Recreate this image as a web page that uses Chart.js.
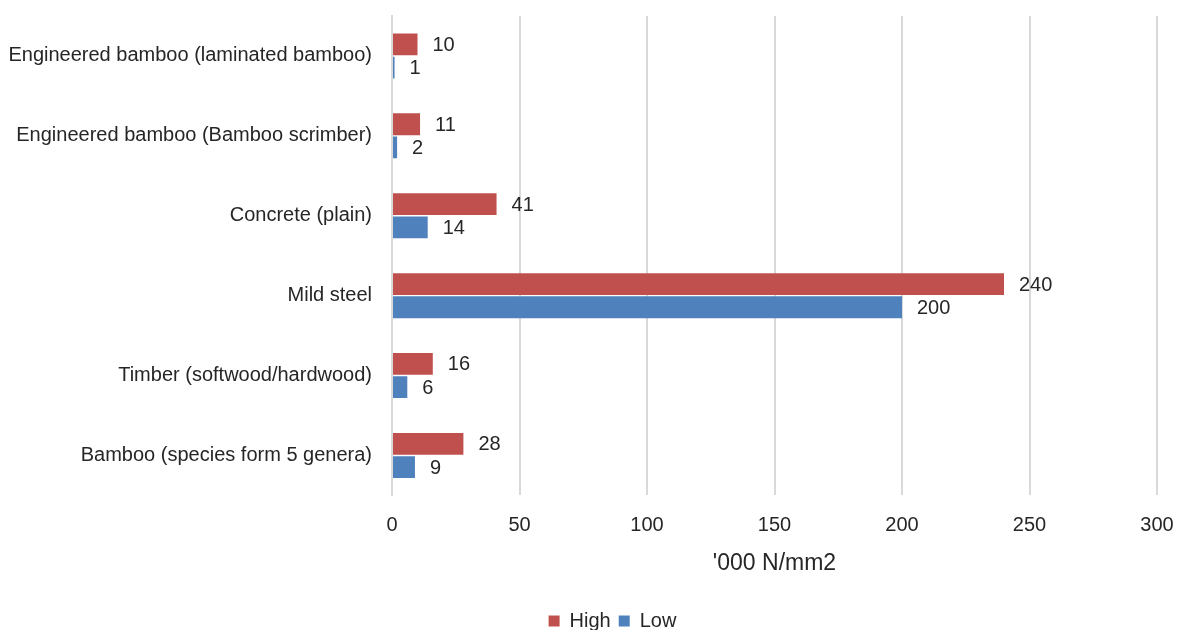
<!DOCTYPE html>
<html>
<head>
<meta charset="utf-8">
<script src="https://cdn.jsdelivr.net/npm/chart.js@4.4.1/dist/chart.umd.min.js"></script>
<style>
  html, body { margin: 0; padding: 0; background: #ffffff; }
  #wrap { width: 1178px; height: 630px; }
</style>
</head>
<body>
<div id="wrap"><canvas id="c" width="1178" height="630"></canvas></div>
<script>
const categories = [
  "Engineered bamboo (laminated bamboo)",
  "Engineered bamboo (Bamboo scrimber)",
  "Concrete (plain)",
  "Mild steel",
  "Timber (softwood/hardwood)",
  "Bamboo (species form 5 genera)"
];
const highValues = [10, 11, 41, 240, 16, 28];
const lowValues = [1, 2, 14, 200, 6, 9];
const xTicks = [0, 50, 100, 150, 200, 250, 300];
const axisTitle = "'000 N/mm2";

const FONT = "'Liberation Sans', Arial, sans-serif";
const RED = "#C0504D";
const BLUE = "#4F81BD";
const TEXT = "#262626";

// writes each bar's value just past its end
const valueLabels = {
  id: "valueLabels",
  afterDatasetsDraw(chart) {
    const ctx = chart.ctx;
    ctx.save();
    ctx.font = "20px " + FONT;
    ctx.fillStyle = TEXT;
    ctx.textAlign = "left";
    ctx.textBaseline = "middle";
    chart.data.datasets.forEach((ds, i) => {
      chart.getDatasetMeta(i).data.forEach((bar, j) => {
        ctx.fillText(String(ds.data[j]), bar.x + 15, bar.y + 1);
      });
    });
    ctx.restore();
  }
};

// centres the legend a little right of the canvas middle
const legendShift = {
  id: "legendShift",
  afterLayout(chart) {
    if (chart.legend) chart.legend.left = 68;
  }
};

new Chart(document.getElementById("c"), {
  type: "bar",
  data: {
    labels: categories,
    datasets: [
      { label: "High", data: highValues, backgroundColor: RED, barPercentage: 0.94, categoryPercentage: 0.58 },
      { label: "Low", data: lowValues, backgroundColor: BLUE, barPercentage: 0.94, categoryPercentage: 0.58 }
    ]
  },
  options: {
    indexAxis: "y",
    responsive: false,
    animation: false,
    layout: { padding: { left: 0, right: 21, top: 16, bottom: -11 } },
    scales: {
      x: {
        min: 0, max: 300,
        afterBuildTicks(axis) { axis.ticks = xTicks.map(v => ({ value: v })); },
        afterFit(axis) { axis.paddingLeft = 0; axis.paddingRight = 0; },
        grid: { color: "#d9d9d9", lineWidth: 2, drawTicks: false },
        border: { display: false },
        ticks: { color: TEXT, font: { family: FONT, size: 20 }, padding: 18 },
        title: { display: true, text: axisTitle, color: TEXT, font: { family: FONT, size: 23 }, padding: { top: -6, bottom: 26 } }
      },
      y: {
        grid: { display: false, drawTicks: false },
        border: { display: true, color: "#d9d9d9", width: 2 },
        ticks: { color: TEXT, font: { family: FONT, size: 20 }, padding: 20 },
        afterFit(axis) { axis.width = 392; axis.paddingTop = 0; axis.paddingBottom = 0; }
      }
    },
    plugins: {
      legend: {
        position: "bottom",
        labels: { color: TEXT, font: { family: FONT, size: 20 }, boxWidth: 11, boxHeight: 11, padding: 8 }
      },
      tooltip: { enabled: false }
    }
  },
  plugins: [valueLabels, legendShift]
});
</script>
</body>
</html>
